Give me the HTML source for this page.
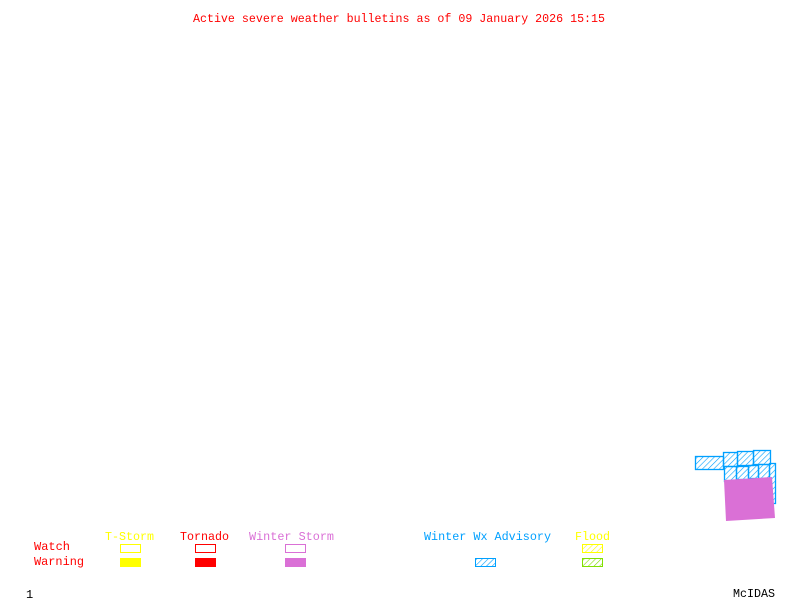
<!DOCTYPE html>
<html><head><style>html,body{margin:0;padding:0;background:#fff;}svg{display:block}</style></head>
<body>
<svg width="800" height="600" xmlns="http://www.w3.org/2000/svg" font-family="Liberation Mono, monospace" font-size="12">
<defs>
<pattern id="hb" width="4" height="4" patternUnits="userSpaceOnUse" patternTransform="rotate(45)"><line x1="0" y1="0" x2="0" y2="4" stroke="#00a0ff" stroke-width="1.2"/></pattern>
<pattern id="hy" width="4" height="4" patternUnits="userSpaceOnUse" patternTransform="rotate(45)"><line x1="0" y1="0" x2="0" y2="4" stroke="#ffff00" stroke-width="1.2"/></pattern>
<pattern id="hg" width="4" height="4" patternUnits="userSpaceOnUse" patternTransform="rotate(45)"><line x1="0" y1="0" x2="0" y2="4" stroke="#80e000" stroke-width="1.2"/></pattern>
</defs>
<rect width="800" height="600" fill="#fff"/>
<text x="193" y="22" fill="#ff0000" textLength="412" lengthAdjust="spacingAndGlyphs">Active severe weather bulletins as of 09 January 2026 15:15</text>

<g fill="url(#hb)" stroke="#00a0ff" stroke-width="1.3">
<rect x="695.5" y="456.5" width="28" height="13"/>
<rect x="723.5" y="452.5" width="14" height="14"/>
<rect x="737.5" y="451.5" width="16" height="14"/>
<rect x="753.5" y="450.5" width="17" height="14"/>
<rect x="724.5" y="466.5" width="12" height="15"/>
<rect x="736.5" y="466.5" width="12" height="13"/>
<rect x="748.5" y="465.5" width="10" height="13"/>
<rect x="758.5" y="464.5" width="11" height="14"/>
<rect x="769.5" y="463.5" width="6" height="40"/>
</g>
<polygon points="724,480 772,477 775,518 726,521" fill="#da70d6"/>

<text x="105" y="540" fill="#ffff00" textLength="49" lengthAdjust="spacingAndGlyphs">T-Storm</text>
<text x="180" y="540" fill="#ff0000" textLength="49" lengthAdjust="spacingAndGlyphs">Tornado</text>
<text x="249" y="540" fill="#da70d6" textLength="85" lengthAdjust="spacingAndGlyphs">Winter Storm</text>
<text x="424" y="540" fill="#00a0ff" textLength="127" lengthAdjust="spacingAndGlyphs">Winter Wx Advisory</text>
<text x="575" y="540" fill="#ffff00" textLength="35" lengthAdjust="spacingAndGlyphs">Flood</text>
<text x="34" y="550" fill="#ff0000" textLength="36" lengthAdjust="spacingAndGlyphs">Watch</text>
<text x="34" y="565" fill="#ff0000" textLength="50" lengthAdjust="spacingAndGlyphs">Warning</text>

<rect x="120.5" y="544.5" width="20" height="8" fill="none" stroke="#ffff00"/>
<rect x="195.5" y="544.5" width="20" height="8" fill="none" stroke="#ff0000"/>
<rect x="285.5" y="544.5" width="20" height="8" fill="none" stroke="#da70d6"/>
<rect x="582.5" y="544.5" width="20" height="8" fill="url(#hy)" stroke="#ffff00"/>
<rect x="120" y="558" width="21" height="9" fill="#ffff00"/>
<rect x="195" y="558" width="21" height="9" fill="#ff0000"/>
<rect x="285" y="558" width="21" height="9" fill="#da70d6"/>
<rect x="475.5" y="558.5" width="20" height="8" fill="url(#hb)" stroke="#00a0ff"/>
<rect x="582.5" y="558.5" width="20" height="8" fill="url(#hg)" stroke="#80e000"/>

<text x="26" y="598" fill="#000">1</text>
<text x="733" y="597" fill="#000" textLength="42" lengthAdjust="spacingAndGlyphs">McIDAS</text>
</svg>
</body></html>
